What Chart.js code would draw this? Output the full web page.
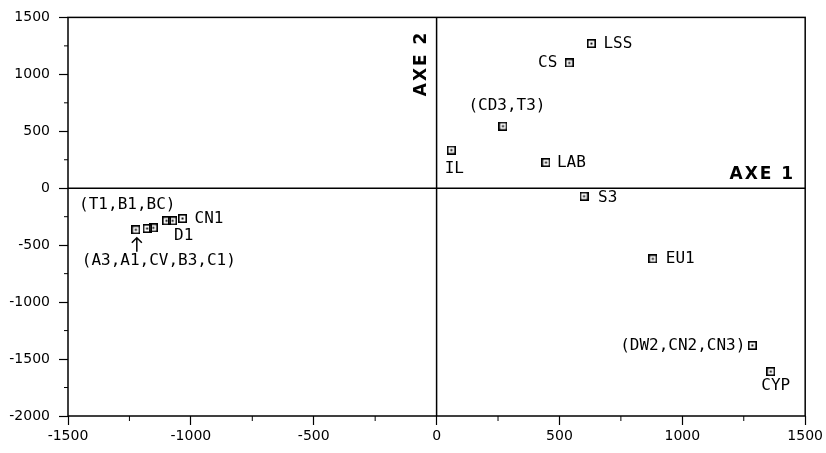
<!DOCTYPE html>
<html>
<head>
<meta charset="utf-8">
<script src="https://cdn.jsdelivr.net/npm/chart.js@4/dist/chart.umd.min.js"></script>
<style>
  html, body { margin: 0; padding: 0; background: #fff; }
  #wrap { width: 826px; height: 453px; }
</style>
</head>
<body>
<div id="wrap"><canvas id="chart"></canvas></div>
<script>
// Data
const pointLabels = ["LSS", "CS", "(CD3,T3)", "IL", "LAB", "S3", "EU1", "(DW2,CN2,CN3)", "CYP",
  "(A3,A1,CV,B3,C1)", "", "(T1,B1,BC)", "", "D1", "CN1"];
const axe1Values = [630, 540, 270, 60, 445, 600, 880, 1285, 1360, -1224, -1178, -1153, -1099, -1074, -1034];
const axe2Values = [1270, 1100, 545, 335, 225, -70, -620, -1380, -1610, -365, -354, -348, -286, -286, -266];
const xTicks = [-1500, -1000, -500, 0, 500, 1000, 1500];
const yTicks = [-2000, -1500, -1000, -500, 0, 500, 1000, 1500];

// Label placement (pixel offsets from the marker, text alignment)
const labelPlacement = [
  [12, 0, "left"], [-12, 0, "right"], [4, -20, "center"], [3, 19, "center"], [11, 0, "left"],
  [14, 2, "left"], [13, 0, "left"], [-7, 0, "right"], [5, 14, "center"],
  [23, 31, "center", true], [0, 0, "left"], [-26, -23, "center"], [0, 0, "left"], [11, 15, "center"], [12, 0, "left"],
];

// square marker with a dot in the middle
function makeMarker() {
  const c = document.createElement("canvas");
  c.width = 9; c.height = 9;
  const g = c.getContext("2d");
  g.strokeStyle = "#000";
  g.lineWidth = 1.6;
  g.strokeRect(0.8, 0.8, 7.4, 7.4);
  g.fillStyle = "#000";
  g.fillRect(3.5, 3.5, 2, 2);
  return c;
}

const points = axe1Values.map((x, i) => ({ x: x, y: axe2Values[i] }));

const decorPlugin = {
  id: "decor",
  afterDraw(chart) {
    const { ctx, chartArea: a, scales } = chart;
    const xs = scales.x, ys = scales.y;
    ctx.save();
    ctx.strokeStyle = "#000";
    ctx.lineWidth = 1.5;
    // frame
    ctx.strokeRect(a.left, a.top, a.right - a.left, a.bottom - a.top);
    // zero lines
    const x0 = xs.getPixelForValue(0), y0 = ys.getPixelForValue(0);
    ctx.beginPath();
    ctx.moveTo(x0, a.top); ctx.lineTo(x0, a.bottom);
    ctx.moveTo(a.left, y0); ctx.lineTo(a.right, y0);
    ctx.stroke();
    // minor ticks
    ctx.lineWidth = 1;
    ctx.beginPath();
    for (let v = -1250; v < 1500; v += 500) {
      const px = xs.getPixelForValue(v);
      ctx.moveTo(px, a.bottom); ctx.lineTo(px, a.bottom + 5);
    }
    for (let v = -1750; v < 1500; v += 500) {
      const py = ys.getPixelForValue(v);
      ctx.moveTo(a.left, py); ctx.lineTo(a.left - 4, py);
    }
    ctx.stroke();

    // point labels
    ctx.fillStyle = "#000";
    ctx.font = "16px 'DejaVu Sans Mono'";
    ctx.textBaseline = "middle";
    points.forEach((p, i) => {
      const txt = pointLabels[i];
      const pl = labelPlacement[i];
      const px = xs.getPixelForValue(p.x), py = ys.getPixelForValue(p.y);
      if (txt) {
        ctx.textAlign = pl[2];
        ctx.fillText(txt, px + pl[0], py + pl[1]);
      }
      if (pl[3]) {
        // arrow pointing up to the marker
        ctx.lineWidth = 1.5;
        ctx.beginPath();
        ctx.moveTo(px + 1, py + 8); ctx.lineTo(px + 1, py + 22);
        ctx.moveTo(px - 4, py + 13); ctx.lineTo(px + 1, py + 8); ctx.lineTo(px + 6, py + 13);
        ctx.stroke();
      }
    });

    // axis names
    ctx.font = "bold 17px 'DejaVu Sans'";
    ctx.letterSpacing = "2px";
    ctx.textAlign = "right";
    ctx.textBaseline = "middle";
    ctx.fillText("AXE 1", a.right - 10, y0 - 14);
    ctx.save();
    ctx.translate(x0 - 15, a.top + 46);
    ctx.rotate(-Math.PI / 2);
    ctx.textAlign = "center";
    ctx.fillText("AXE 2", 0, 0);
    ctx.restore();
    ctx.restore();
  },
};

const tickFont = { family: "'DejaVu Sans'", size: 14 };

new Chart(document.getElementById("chart"), {
  type: "scatter",
  data: {
    datasets: [{
      data: points,
      pointStyle: makeMarker(),
      pointRadius: 4,
      pointHoverRadius: 4,
    }],
  },
  options: {
    responsive: true,
    maintainAspectRatio: false,
    animation: false,
    events: [],
    layout: { padding: { top: 16, right: 20, left: 0, bottom: 4 } },
    plugins: { legend: { display: false }, tooltip: { enabled: false } },
    scales: {
      x: {
        type: "linear",
        min: xTicks[0],
        max: xTicks[xTicks.length - 1],
        afterBuildTicks: (s) => { s.ticks = xTicks.map((v) => ({ value: v })); },
        afterFit: (s) => { s.height = 33; },
        ticks: { color: "#000", font: tickFont, padding: 3, maxRotation: 0, callback: (v) => String(v) },
        grid: { display: true, drawOnChartArea: false, tickLength: 9, tickColor: "#000", tickWidth: 1.2 },
        border: { display: false },
      },
      y: {
        type: "linear",
        min: yTicks[0],
        max: yTicks[yTicks.length - 1],
        afterBuildTicks: (s) => { s.ticks = yTicks.map((v) => ({ value: v })); },
        afterFit: (s) => { s.width = 68; },
        ticks: { color: "#000", font: tickFont, padding: 9, callback: (v) => String(v) },
        grid: { display: true, drawOnChartArea: false, tickLength: 9, tickColor: "#000", tickWidth: 1.2 },
        border: { display: false },
      },
    },
  },
  plugins: [decorPlugin],
});
</script>
</body>
</html>
